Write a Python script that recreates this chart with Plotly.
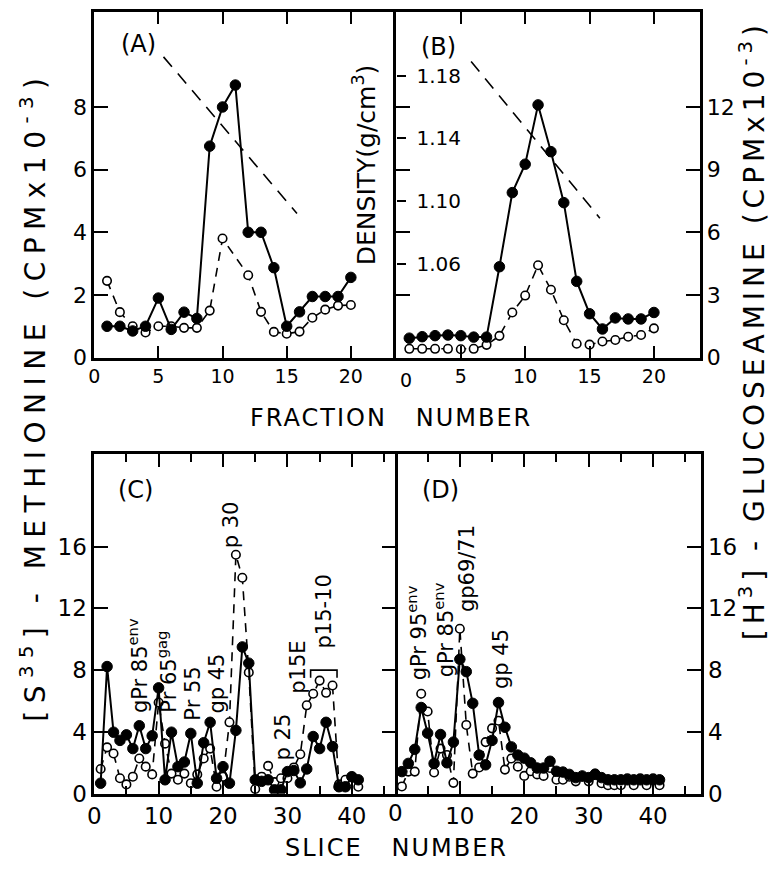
import plotly.graph_objects as go

W, H = 771, 872

# ---------------- data ----------------
# (A) [35S]-methionine label, gradient fractions (CPM x 10^-3)
frac = list(range(1, 21))
a_filled = [1.0, 1.0, 0.85, 1.0, 1.9, 0.9, 1.45, 1.25, 6.75, 8.0,
            8.7, 4.0, 4.0, 2.87, 1.0, 1.46, 1.95, 1.95, 1.95, 2.56]
a_open_frac = [1, 2, 3, 4, 5, 6, 7, 8, 9, 10, 12, 13, 14, 15, 16, 17, 18, 19, 20]
a_open = [2.45, 1.45, 1.0, 0.8, 1.0, 1.0, 0.95, 0.95, 1.5, 3.8,
          2.63, 1.46, 0.82, 0.76, 0.83, 1.27, 1.53, 1.66, 1.68]

# (B) [3H]-glucosamine label, gradient fractions (CPM x 10^-3)
b_filled = [0.93, 1.0, 1.05, 1.08, 1.05, 0.98, 0.98, 4.35, 7.9, 9.26,
            12.1, 9.86, 7.42, 3.65, 2.1, 1.37, 1.9, 1.85, 1.85, 2.16]
b_open = [0.42, 0.42, 0.42, 0.42, 0.4, 0.42, 0.61, 1.04, 2.16, 2.97,
          4.42, 3.25, 1.79, 0.66, 0.62, 0.77, 0.84, 1.0, 1.08, 1.4]

# sucrose density gradient (g/cm3)
dens_frac_a = [5.4, 15.8]
dens_a = [1.192, 1.092]
dens_frac_b = [5.8, 15.8]
dens_b = [1.189, 1.089]
dens_ticks = [1.06, 1.10, 1.14, 1.18]

# (C) [35S]-methionine, gel slices
slices = list(range(1, 42))
c_filled = [0.68, 8.23, 3.98, 3.45, 3.81, 2.92, 4.4, 2.92, 3.75, 6.85,
            0.9, 3.98, 1.75, 2.05, 3.9, 0.68, 3.3, 4.62, 1.0, 1.75,
            0.68, 4.1, 9.5, 8.45, 0.9, 0.8, 0.9, 0.25, 0.25, 1.43,
            1.5, 0.7, 1.6, 3.7, 2.92, 4.62, 3.05, 0.45, 0.45, 1.1, 0.9]
c_open = [1.6, 3.0, 2.6, 1.0, 0.6, 1.1, 2.28, 1.75, 1.25, 5.9,
          3.24, 1.3, 0.9, 1.3, 0.68, 1.25, 2.28, 2.92, 0.45, 1.1,
          4.62, 15.47, 13.98, 7.85, 0.3, 1.1, 1.8, 0.75, 1.0, 1.0,
          1.7, 2.55, 5.72, 6.47, 7.32, 6.53, 7.0, 0.6, 0.9, 1.1, 0.45]

# (D) [3H]-glucosamine, gel slices
d_filled = [1.43, 1.96, 2.87, 5.58, 3.92, 1.95, 3.83, 2.0, 3.34, 8.7,
            7.9, 5.85, 2.5, 1.87, 3.45, 5.9, 4.3, 3.03, 2.5, 2.3,
            2.0, 1.66, 1.66, 2.1, 1.45, 1.4, 1.25, 1.04, 1.15, 1.04,
            1.25, 1.04, 0.9, 0.9, 0.9, 0.9, 0.9, 0.9, 0.9, 0.9, 0.9]
d_open = [0.47, 1.43, 1.43, 6.47, 5.32, 1.37, 2.92, 2.5, 0.7, 10.68,
          4.45, 1.3, 1.7, 3.34, 4.23, 4.72, 1.56, 2.28, 1.75, 1.15,
          1.45, 1.25, 1.15, 1.66, 0.9, 0.9, 1.1, 0.8, 1.1, 0.8,
          1.3, 0.68, 0.55, 0.55, 0.55, 1.0, 0.55, 1.0, 0.55, 1.0, 0.55]

# protein band labels: (text, slice, counts)
c_bands = [("gPr 85<sup>env</sup>", 6.9, 8.3), ("Pr 65<sup>gag</sup>", 11.3, 7.9),
           ("Pr 55", 15.4, 6.5), ("gp 45", 19.0, 7.1), ("p 30", 21.3, 17.4),
           ("p 25", 29.3, 3.7), ("p15E", 31.6, 8.2), ("p15-10", 35.7, 11.8)]
d_bands = [("gPr 95<sup>env</sup>", 3.4, 10.4), ("gPr 85<sup>env</sup>", 7.6, 10.6),
           ("gp69/71", 11.1, 14.6), ("gp 45", 16.5, 8.7)]
bracket_x = [33.6, 33.6, 37.7, 37.7]
bracket_y = [7.5, 8.0, 8.0, 7.5]

# ---------------- styling ----------------
FONT = "DejaVu Sans"
INK = "black"
solid = dict(color=INK, width=2)
dashed = dict(color=INK, width=1.6, dash="9px,7px")
m_filled = dict(symbol="circle", size=10.5, color=INK, line=dict(color=INK, width=1))
m_open = dict(symbol="circle", size=8.5, color="white", line=dict(color=INK, width=1.6))


def series(x, y, xa, ya, open_=False):
    return go.Scatter(x=x, y=y, xaxis=xa, yaxis=ya, mode="lines+markers",
                      line=dashed if open_ else solid,
                      marker=m_open if open_ else m_filled,
                      showlegend=False, hoverinfo="skip")


fig = go.Figure()
# panel A
fig.add_trace(series(a_open_frac, a_open, "x", "y", True))
fig.add_trace(series(frac, a_filled, "x", "y"))
fig.add_trace(go.Scatter(x=dens_frac_a, y=dens_a, xaxis="x", yaxis="y5", mode="lines",
                         line=dict(color=INK, width=1.6, dash="13px,9px"),
                         showlegend=False, hoverinfo="skip"))
# panel B
fig.add_trace(series(frac, b_open, "x2", "y2", True))
fig.add_trace(series(frac, b_filled, "x2", "y2"))
fig.add_trace(go.Scatter(x=dens_frac_b, y=dens_b, xaxis="x2", yaxis="y3", mode="lines",
                         line=dict(color=INK, width=1.6, dash="13px,9px"),
                         showlegend=False, hoverinfo="skip"))
# panel C
fig.add_trace(series(slices, c_open, "x3", "y6", True))
fig.add_trace(series(slices, c_filled, "x3", "y6"))
fig.add_trace(go.Scatter(x=bracket_x, y=bracket_y, xaxis="x3", yaxis="y6", mode="lines",
                         line=dict(color=INK, width=1.6), showlegend=False, hoverinfo="skip"))
# panel D
fig.add_trace(series(slices, d_open, "x4", "y7", True))
fig.add_trace(series(slices, d_filled, "x4", "y7"))

# ---------------- axes ----------------
def px(v):
    return v / W


def py(v):
    return 1 - v / H


dom_a, dom_b = [px(88), px(393)], [px(393), px(699)]
dom_c, dom_d = [px(88), px(392)], [px(392), px(700)]
dom_top, dom_bot = [py(363), py(12)], [py(805.7), py(460.7)]
TOP_MAX = 351 / 31.8
BOT_MAX = 22.0
DENS_RANGE = [1.0, 1.0 + 0.02 * TOP_MAX]

base = dict(showline=True, linecolor=INK, linewidth=2.5, ticks="inside",
            tickcolor=INK, tickwidth=2, showgrid=False, zeroline=False,
            ticklabeloverflow="allow",
            tickfont=dict(family=FONT, size=22, color=INK))

frac_ticks = [0, 5, 10, 15, 20]
frac_ticks_b = [5, 10, 15, 20]
slice_ticks = [0, 10, 20, 30, 40]
slice_ticks_d = [10, 20, 30, 40]
slice_minor = dict(tickvals=[5, 15, 25, 35, 45], ticks="inside", ticklen=8,
                   tickwidth=2, tickcolor=INK, showgrid=False)
small_font = dict(family=FONT, size=19, color=INK)
gel_font = dict(family=FONT, size=23, color=INK)
dens_axis = dict(overlaying="y2", anchor="free", position=px(393), range=DENS_RANGE,
                 tickvals=dens_ticks, ticks="outside", tickwidth=2, tickcolor=INK,
                 showline=False, showgrid=False, zeroline=False)

fig.update_layout(
    width=W, height=H, margin=dict(l=0, r=0, t=0, b=0),
    paper_bgcolor="white", plot_bgcolor="white",
    font=dict(family=FONT, color=INK),
    xaxis=dict(base, domain=dom_a, anchor="y", range=[0, 23.55], tickvals=frac_ticks,
               ticklen=12, mirror="ticks", tickfont=small_font),
    yaxis=dict(base, domain=dom_top, anchor="x", range=[0, TOP_MAX],
               tickvals=[0, 2, 4, 6, 8], ticklen=14),
    yaxis5=dict(overlaying="y", anchor="x", range=DENS_RANGE, visible=False),
    xaxis2=dict(base, domain=dom_b, anchor="y2", range=[0, 23.55], tickvals=frac_ticks_b,
                ticklen=12, mirror="ticks", tickfont=small_font),
    yaxis2=dict(base, domain=dom_top, anchor="x2", side="right", range=[0, 1.5 * TOP_MAX],
                tickvals=[0, 3, 6, 9, 12], ticklen=14, mirror="ticks"),
    # density scale: labelled ticks reaching into (B), short ticks reaching into (A)
    yaxis3=dict(dens_axis, side="right", ticklen=9, ticklabelstandoff=6,
                ticktext=["%.2f" % v for v in dens_ticks],
                tickfont=dict(family=FONT, size=20, color=INK)),
    yaxis4=dict(dens_axis, side="left", ticklen=7, showticklabels=False),
    xaxis3=dict(base, domain=dom_c, anchor="y6", range=[0, 304 / 6.5], tickvals=slice_ticks,
                ticklen=13, mirror="ticks", minor=slice_minor, tickfont=gel_font),
    yaxis6=dict(base, domain=dom_bot, anchor="x3", range=[0, BOT_MAX],
                tickvals=[0, 4, 8, 12, 16], ticklen=14, mirror="ticks", tickfont=gel_font),
    xaxis4=dict(base, domain=dom_d, anchor="y7", range=[0, 308 / 6.5],
                tickvals=slice_ticks_d, ticklen=13, mirror="ticks", minor=slice_minor,
                tickfont=gel_font),
    yaxis7=dict(base, domain=dom_bot, anchor="x4", side="right", range=[0, BOT_MAX],
                tickvals=[0, 4, 8, 12, 16], ticklen=14, tickfont=gel_font),
)

# ---------------- text ----------------
ann = []


def note(text, x, y, size, angle=0, xref="paper", yref="paper", spacing=0, **kw):
    if spacing:
        text = '<span style="letter-spacing:%gpx">%s</span>' % (spacing, text)
    ann.append(dict(text=text, x=x, y=y, xref=xref, yref=yref, showarrow=False,
                    textangle=angle, font=dict(family=FONT, size=size, color=INK),
                    xanchor="center", yanchor="middle", **kw))


note("(A)", px(133), py(45), 24)
note("(B)", px(435), py(48), 24)
note("(C)", px(130), py(497), 24)
note("(D)", px(437), py(497), 24)
# zero labels at the shared panel edges of (B) and (D)
note("0", 0, py(386), 19, xref="x2", xshift=10)
note("0", 0, py(825), 23, xref="x4")
note("FRACTION\u00a0\u00a0\u00a0NUMBER", px(388), py(424), 24, spacing=2)
note("SLICE\u00a0\u00a0\u00a0NUMBER", px(393), py(861), 24, spacing=2)
note("DENSITY(g/cm<sup>3</sup>)", px(361), py(167), 25, angle=-90)
note("[S<sup>35</sup>] - METHIONINE (CPMx10<sup>-3</sup>)", px(26), py(402), 28,
     angle=-90, spacing=7.5)
note("[H<sup>3</sup>] - GLUCOSEAMINE (CPMx10<sup>-3</sup>)", px(752), py(335), 28,
     angle=-90, spacing=5)

for text, x, y in c_bands:
    note(text, x, y, 21, angle=-90, xref="x3", yref="y6")
for text, x, y in d_bands:
    note(text, x, y, 21, angle=-90, xref="x4", yref="y7")

fig.update_layout(annotations=ann)
fig.write_html("out.html")
